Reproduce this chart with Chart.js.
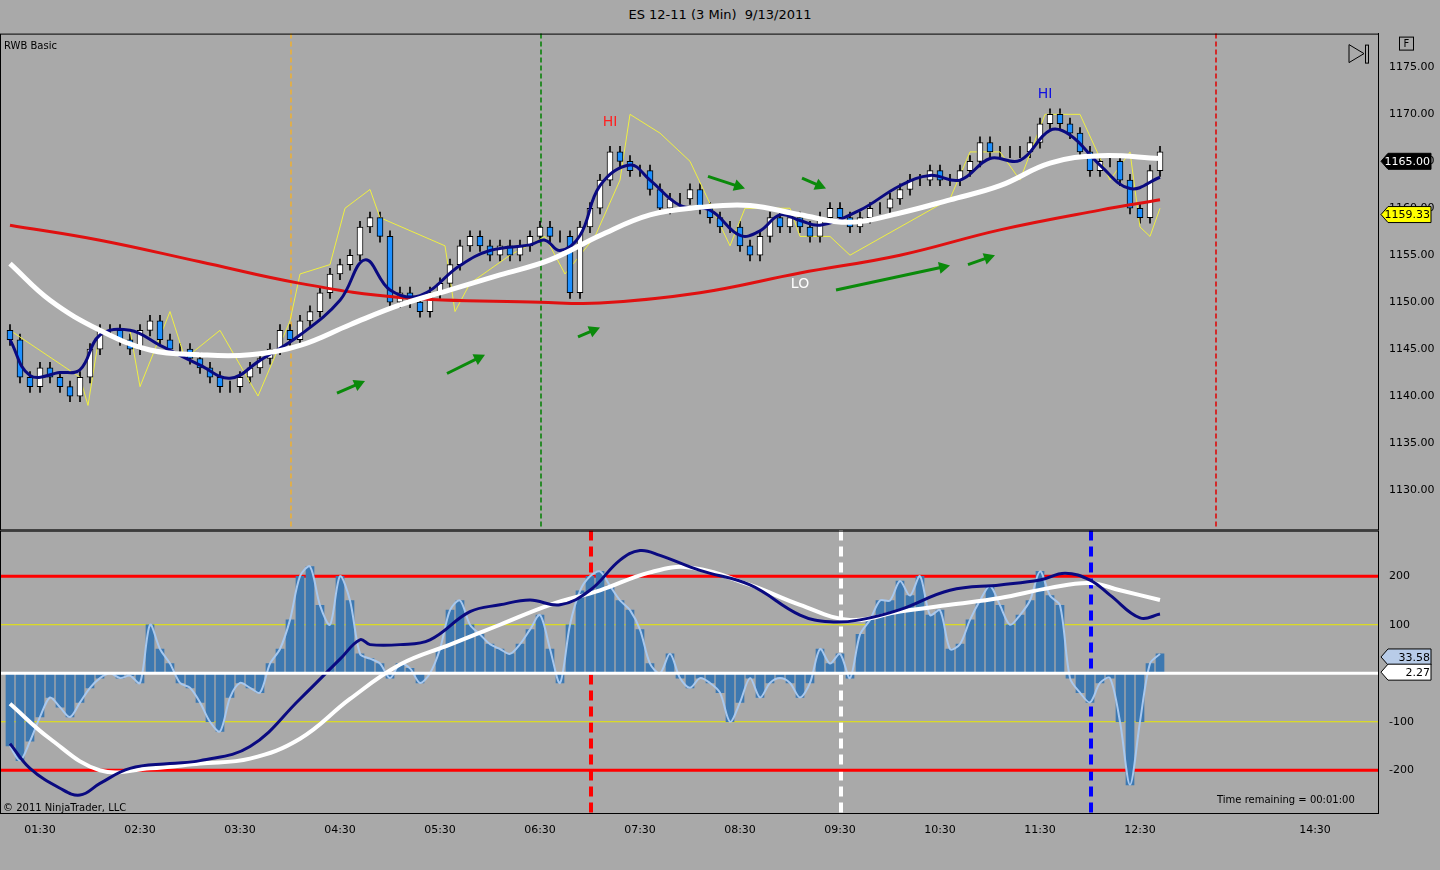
<!DOCTYPE html>
<html><head><meta charset="utf-8">
<script src="https://cdn.jsdelivr.net/npm/chart.js@4"></script>
<style>
body{margin:0;background:#a9a9a9;width:1440px;height:870px;overflow:hidden;font-family:"DejaVu Sans",sans-serif;position:relative}
#title{position:absolute;top:7px;left:0;width:1440px;text-align:center;font-size:13px;color:#000}
#top{position:absolute;left:0;top:24px}
#bot{position:absolute;left:0;top:521px}
.t{position:absolute;font-size:10px;color:#000}
</style></head><body>
<div id="title">ES 12-11 (3 Min)&nbsp; 9/13/2011</div>
<canvas id="top" width="1440" height="515"></canvas>
<canvas id="bot" width="1440" height="324"></canvas>
<div class="t" style="left:4px;top:40px">RWB Basic</div>
<div class="t" style="left:3px;top:802px">© 2011 NinjaTrader, LLC</div>
<div class="t" style="left:1217px;top:794px">Time remaining = 00:01:00</div>
<script>
// bar slots: 1 slot = 3 min, slot 8 = 01:30
var tickSlots = [8,28,48,68,88,108,128,148,168,188,208,228,263];
var tickLabels = ['01:30','02:30','03:30','04:30','05:30','06:30','07:30','08:30','09:30','10:30','11:30','12:30','14:30'];

// 6-min closes, slots 2,4,...,232
var closes = [1146,1142,1141,1143,1142,1141,1140,1142,1145,1147,
 1147,1146,1145,1147,1148,1146,1145,1145,1144,1143,
 1142,1141,1141,1142,1143,1144,1145,1147,1146,1148,
 1149,1151,1153,1154,1155,1158,1159,1157,1150,1151,
 1150,1149,1151,1152,1154,1156,1157,1156,1155,1156,
 1155,1156,1157,1158,1157,1157,1151,1158,1160,1163,
 1166,1165,1164,1164,1162,1160,1161,1161,1162,1160,
 1159,1158,1158,1156,1155,1157,1159,1158,1159,1158,
 1157,1159,1160,1159,1158,1159,1160,1160,1161,1162,
 1163,1163,1164,1163,1163,1164,1165,1167,1166,1166,
 1166,1166,1167,1169,1170,1169,1168,1166,1164,1165,
 1165,1163,1160,1159,1164,1166];
var firstOpen = 1147;

var redMA = [[2,1158.2],[20,1156.6],[40,1154.3],[60,1152.0],[80,1150.5],[108,1150.0],[120,1149.9],[140,1151.0],[160,1153.1],[180,1155.0],[200,1157.7],[220,1159.8],[232,1160.9]];
var whiteMA = [[2,1154.1],[10,1150.2],[20,1147.0],[30,1144.9],[40,1144.4],[50,1144.4],[60,1145.4],[70,1147.6],[80,1149.7],[90,1151.3],[100,1152.9],[110,1154.5],[120,1157.1],[130,1159.3],[140,1160.1],[150,1160.3],[160,1159.3],[170,1158.5],[180,1159.5],[190,1160.9],[200,1162.4],[210,1164.8],[220,1165.6],[232,1165.3]];
var blueMA = [[2,1146],[6,1142.2],[12,1142.5],[16,1142.8],[20,1146.5],[26,1147.0],[32,1145.4],[40,1143.3],[46,1141.9],[52,1143.8],[60,1146.5],[68,1150.2],[73,1154.5],[78,1151.3],[84,1150.7],[92,1153.9],[98,1155.5],[106,1156.1],[109,1156.6],[112,1155.5],[116,1157.1],[120,1162.4],[126,1164.6],[130,1163.0],[136,1160.3],[142,1159.8],[148,1157.1],[152,1157.6],[156,1159.3],[160,1158.7],[164,1158.2],[172,1159.8],[180,1162.4],[186,1163.5],[192,1163.0],[198,1165.3],[204,1165.1],[210,1168.3],[214,1167.8],[220,1164.6],[226,1162.1],[232,1163.3]];
var yellowBand = [[2,1147],[16,1142],[17.6,1139],[20,1147],[26,1147],[28,1141],[34,1149],[37,1144],[44,1147],[51.6,1140],[58,1148],[60,1153],[66,1154],[69,1160],[74,1162],[76,1159],[89,1156],[91,1149],[94,1152],[102,1155],[109,1157],[113,1153],[119,1157],[124,1163],[126,1170],[132,1168],[138,1165],[146,1156],[149,1160],[158,1160],[160,1157],[166,1157],[170,1155],[180,1158],[190,1161],[194,1166],[200,1166],[204,1163],[209,1170],[216,1170],[222,1163],[226,1166],[228,1158],[230,1157],[232,1160]];

var osc = [-150,-180,-140,-90,-50,-70,-90,-60,-30,-10,
 0,-10,-5,-20,100,50,20,-20,-30,-60,
 -100,-120,-50,-20,-30,-40,20,50,110,200,
 220,140,100,200,150,40,30,20,-10,20,
 10,-20,0,50,130,150,100,80,60,50,
 40,60,90,120,50,-20,100,170,200,210,
 180,150,130,90,20,0,40,-10,-30,-10,
 -20,-40,-100,-60,-10,-50,-20,-10,-20,-50,
 -20,50,20,40,-10,80,110,150,150,190,
 160,200,120,130,50,60,110,150,180,140,
 100,120,150,210,160,140,-10,-40,-60,-20,
 -10,-100,-230,-100,20,40];
var oscBlue = [[2,-145],[6,-196],[12,-237],[16,-251],[20,-227],[26,-196],[34,-186],[40,-180],[50,-151],[60,-53],[68,29],[72,69],[74,59],[80,59],[86,69],[94,127],[100,141],[106,151],[112,141],[118,171],[124,233],[128,253],[132,243],[140,212],[150,182],[160,120],[166,106],[172,110],[180,131],[190,171],[200,182],[208,192],[213,206],[218,192],[222,161],[228,114],[232,122]];
var oscWhite = [[2,-63],[10,-135],[20,-200],[30,-196],[40,-186],[50,-176],[60,-135],[70,-53],[80,18],[90,59],[100,100],[110,141],[120,171],[130,208],[138,218],[150,182],[160,141],[170,110],[180,127],[190,141],[200,155],[210,176],[218,186],[224,171],[232,151]];

var arrows = [[67.4,1140.3,73,1141.6],[89.4,1142.4,97,1144.4],[115.6,1146.3,120,1147.3],[141.6,1163.4,149,1162.1],[160.4,1163.2,165.2,1162.1],[167.2,1151.3,190,1153.9],[193.6,1154.0,199,1155.0]];
var notes = [['HI',122,1169.1,'#ff2020'],['HI',209,1172.1,'#1010e0'],['LO',160,1151.9,'#ffffff']];
var topVLines = [[58.2,'#f0b030'],[108.2,'#008000'],[243.2,'#e00000']];
var botVLines = [[118.2,'#ff0000'],[168.2,'#ffffff'],[218.2,'#0000ff']];

var pts = function(a){ return a.map(function(p){ return {x:p[0], y:p[1]}; }); };
var bodies = [], wicks = [], bodyCol = [];
for (var i = 0; i < closes.length; i++) {
  var o = i == 0 ? firstOpen : closes[i-1], c = closes[i];
  bodies.push({x: 2+2*i, y: [o, c]});
  wicks.push({x: 2+2*i, y: [Math.min(o,c)-0.6, Math.max(o,c)+0.6]});
  bodyCol.push(c >= o ? '#ffffff' : '#1e90ff');
}
var oscBars = osc.map(function(v,i){ return {x: 2+2*i, y: v}; });

var xCommon = {type:'linear', min:0, max:275.6, offset:false, bounds:'ticks', grid:{display:false}};
var fixTicks = function(ax){ ax.ticks = tickSlots.map(function(v){ return {value:v}; }); };

var tagPlugin = function(tags, vl, extra){ return {
  id:'deco',
  beforeDatasetsDraw: function(ch){
    var ctx = ch.ctx, a = ch.chartArea, xs = ch.scales.x;
    ctx.save();
    vl.forEach(function(l){
      var x = xs.getPixelForValue(l[0]);
      ctx.strokeStyle = l[1]; ctx.lineWidth = extra.vw; ctx.setLineDash(extra.dash);
      ctx.beginPath(); ctx.moveTo(x, a.top); ctx.lineTo(x, a.bottom); ctx.stroke();
    });
    ctx.restore();
    if (extra.before) extra.before(ch);
  },
  afterDatasetsDraw: function(ch){
    var ctx = ch.ctx, a = ch.chartArea, ys = ch.scales.y;
    if (extra.after) extra.after(ch);
    ctx.save();
    ctx.strokeStyle = '#000'; ctx.lineWidth = 1; ctx.setLineDash([]);
    ctx.strokeRect(a.left+0.5, a.top+0.5, a.right-a.left, a.bottom-a.top);
    tags.forEach(function(t){
      var y = ys.getPixelForValue(t[1]), x = a.right + 3;
      ctx.fillStyle = t[2]; ctx.strokeStyle = '#000';
      ctx.beginPath(); ctx.moveTo(x, y); ctx.lineTo(x+7, y-8); ctx.lineTo(x+50, y-8); ctx.lineTo(x+50, y+8); ctx.lineTo(x+7, y+8); ctx.closePath();
      ctx.fill(); ctx.stroke();
      ctx.fillStyle = t[3]; ctx.font = '11px "DejaVu Sans"'; ctx.textAlign = 'right'; ctx.textBaseline = 'middle';
      ctx.fillText(t[0], x+49, y+1);
    });
    ctx.restore();
  }
}; };

new Chart(document.getElementById('top'), {
  type: 'bar',
  data: { datasets: [
    {type:'line', data: pts(redMA), borderColor:'#e01010', borderWidth:3, pointRadius:0, tension:0.4, order:1},
    {type:'line', data: pts(whiteMA), borderColor:'#ffffff', borderWidth:5, pointRadius:0, tension:0.4, order:0},
    {type:'line', data: pts(blueMA), borderColor:'#0a0a80', borderWidth:3, pointRadius:0, tension:0.4, order:0},
    {type:'line', data: pts(yellowBand), borderColor:'#f0f040', borderWidth:1, pointRadius:0, tension:0, order:3},
    {data: wicks, backgroundColor:'#000', barThickness:1, grouped:false, order:4},
    {data: bodies, backgroundColor: bodyCol, borderColor:'#000', borderWidth:1, borderSkipped:false, barThickness:6, grouped:false, order:2}
  ]},
  options: {
    responsive:false, animation:false, events:[],
    layout:{padding:{left:0,top:0,bottom:0,right:0}},
    plugins:{legend:{display:false}, tooltip:{enabled:false}},
    scales:{
      x: Object.assign({}, xCommon, {display:false}),
      y: {position:'right', min:1125.8, max:1178.6, grid:{display:false},
          border:{color:'#000'},
          afterFit: function(ax){ ax.width = 62; },
          afterBuildTicks: function(ax){ ax.ticks = [1130,1135,1140,1145,1150,1155,1160,1165,1170,1175].map(function(v){ return {value:v}; }); },
          ticks:{color:'#000', font:{size:11, family:'DejaVu Sans'}, callback:function(v){ return v.toFixed(2); }}}
    }
  },
  plugins:[tagPlugin([['1165.00',1165,'#000','#fff'],['1159.33',1159.33,'#ffff00','#000']], topVLines, {vw:1.5, dash:[5,3],
    after: function(ch){
      var ctx = ch.ctx, xs = ch.scales.x, ys = ch.scales.y, a = ch.chartArea;
      ctx.save();
      arrows.forEach(function(r){
        var x1 = xs.getPixelForValue(r[0]), y1 = ys.getPixelForValue(r[1]), x2 = xs.getPixelForValue(r[2]), y2 = ys.getPixelForValue(r[3]);
        var ang = Math.atan2(y2-y1, x2-x1);
        ctx.strokeStyle = '#0a8a0a'; ctx.fillStyle = '#0a8a0a'; ctx.lineWidth = 3;
        ctx.beginPath(); ctx.moveTo(x1,y1); ctx.lineTo(x2-6*Math.cos(ang), y2-6*Math.sin(ang)); ctx.stroke();
        ctx.beginPath(); ctx.moveTo(x2,y2);
        ctx.lineTo(x2-11*Math.cos(ang)+6*Math.sin(ang), y2-11*Math.sin(ang)-6*Math.cos(ang));
        ctx.lineTo(x2-11*Math.cos(ang)-6*Math.sin(ang), y2-11*Math.sin(ang)+6*Math.cos(ang));
        ctx.closePath(); ctx.fill();
      });
      notes.forEach(function(n){
        ctx.fillStyle = n[3]; ctx.font = '14px "DejaVu Sans"'; ctx.textAlign = 'center'; ctx.textBaseline = 'middle';
        ctx.fillText(n[0], xs.getPixelForValue(n[1]), ys.getPixelForValue(n[2]));
      });
      // play / F icons
      var t = a.top;
      ctx.strokeStyle = '#000'; ctx.lineWidth = 1;
      ctx.beginPath(); ctx.moveTo(1349,t+11); ctx.lineTo(1364,t+20); ctx.lineTo(1349,t+29); ctx.closePath(); ctx.stroke();
      ctx.strokeRect(1365.5,t+11.5,3,18);
      ctx.strokeRect(1399.5,t+3.5,14,13);
      ctx.fillStyle = '#000'; ctx.font = '10px "DejaVu Sans"'; ctx.textAlign='center'; ctx.textBaseline='middle';
      ctx.fillText('F', 1406.5, t+10.5);
      ctx.restore();
    }})]
});

new Chart(document.getElementById('bot'), {
  type: 'bar',
  data: { datasets: [
    {type:'line', data: pts(oscBlue), borderColor:'#0a0a80', borderWidth:3, pointRadius:0, tension:0.4, order:0},
    {type:'line', data: pts(oscWhite), borderColor:'#ffffff', borderWidth:4, pointRadius:0, tension:0.4, order:1},
    {type:'line', data: oscBars, borderColor:'#a8c8ee', borderWidth:2, pointRadius:0, tension:0.3, order:3},
    {data: oscBars, backgroundColor:'#3d78b0', barThickness:8, order:4}
  ]},
  options: {
    responsive:false, animation:false, events:[],
    layout:{padding:0},
    plugins:{legend:{display:false}, tooltip:{enabled:false}},
    scales:{
      x: Object.assign({}, xCommon, {
        afterFit: function(ax){ ax.height = 32; }, afterBuildTicks: fixTicks,
        border:{color:'#000'},
        grid:{display:false, drawTicks:true},
        ticks:{color:'#000', maxRotation:0, autoSkip:false, font:{size:11, family:'DejaVu Sans'},
               callback:function(v){ var k = tickSlots.indexOf(v); return k < 0 ? '' : tickLabels[k]; }}}),
      y: {position:'right', min:-288, max:294, grid:{display:false},
          afterFit: function(ax){ ax.width = 62; },
          afterBuildTicks: function(ax){ ax.ticks = [-200,-100,100,200].map(function(v){ return {value:v}; }); },
          ticks:{color:'#000', font:{size:11, family:'DejaVu Sans'}}}
    }
  },
  plugins:[tagPlugin([['33.58',33.58,'#b8cce8','#000'],['2.27',2.27,'#fff','#000']], botVLines, {vw:4, dash:[10,6],
    before: function(ch){
      var ctx = ch.ctx, a = ch.chartArea, ys = ch.scales.y;
      ctx.save();
      [[200,'#ff0000',3],[-200,'#ff0000',3],[100,'#e8e800',1],[-100,'#e8e800',1]].forEach(function(h){
        var y = ys.getPixelForValue(h[0]);
        ctx.strokeStyle = h[1]; ctx.lineWidth = h[2];
        ctx.beginPath(); ctx.moveTo(a.left, y); ctx.lineTo(a.right, y); ctx.stroke();
      });
      ctx.restore();
    },
    after: function(ch){
      var ctx = ch.ctx, a = ch.chartArea, ys = ch.scales.y, y = ys.getPixelForValue(0);
      ctx.save(); ctx.strokeStyle = '#fff'; ctx.lineWidth = 3;
      ctx.beginPath(); ctx.moveTo(a.left, y); ctx.lineTo(a.right, y); ctx.stroke(); ctx.restore();
    }})]
});
</script>
</body></html>
